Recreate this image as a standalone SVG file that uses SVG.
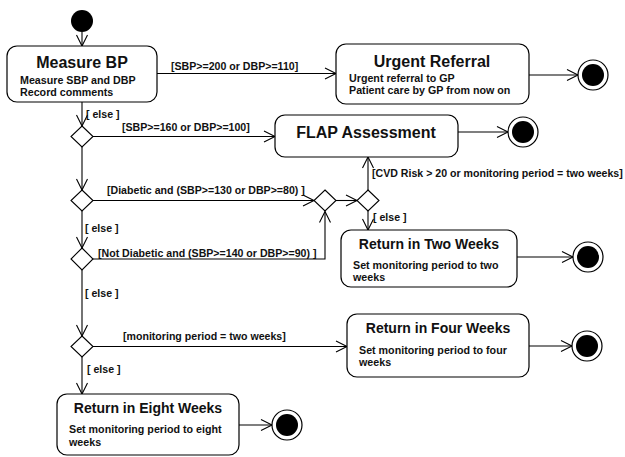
<svg xmlns="http://www.w3.org/2000/svg" width="625" height="457" viewBox="0 0 625 457">
<defs>
<marker id="arr" markerUnits="userSpaceOnUse" markerWidth="14" markerHeight="14" viewBox="0 0 14 14" refX="12" refY="7" orient="auto">
<path d="M1,1.5 L12,7 L1,12.5" fill="none" stroke="#000" stroke-width="1.1"/>
</marker>
</defs>
<style>
text{font-family:"Liberation Sans",Arial,sans-serif;font-weight:bold;fill:#111}
.box{fill:#fff;stroke:#000;stroke-width:1.2}
.t1{font-size:16px;text-anchor:middle}
.t2{font-size:14px;text-anchor:middle}
.s{font-size:10.7px}
.lbl{font-size:10.6px}
.e{fill:none;stroke:#000;stroke-width:1.1;marker-end:url(#arr)}
.ln{fill:none;stroke:#000;stroke-width:1.1}
.dia{fill:#fff;stroke:#000;stroke-width:1.1}
.fo{fill:#fff;stroke:#000;stroke-width:1.2}
</style>
<g id="connectors">
<path class="e" d="M82,32 V46"/>
<path class="e" d="M157,73.5 H336"/>
<text class="lbl" x="171" y="70">[SBP&gt;=200 or DBP&gt;=110]</text>
<path class="e" d="M529,75 H578"/>
<path class="e" d="M82,102 V126"/>
<text class="lbl" x="86" y="118">[ else ]</text>
<path class="e" d="M93,136.5 H275"/>
<text class="lbl" x="122" y="131">[SBP&gt;=160 or DBP&gt;=100]</text>
<path class="e" d="M458,132 H508"/>
<path class="e" d="M82,147 V190"/>
<path class="e" d="M93,200.5 H314"/>
<text class="lbl" x="107" y="194">[Diabetic and (SBP&gt;=130 or DBP&gt;=80) ]</text>
<path class="e" d="M82,211 V248"/>
<text class="lbl" x="85" y="232">[ else ]</text>
<path class="e" d="M93,259 H325 V211.5"/>
<text class="lbl" x="98" y="257">[Not Diabetic and (SBP&gt;=140 or DBP&gt;=90) ]</text>
<path class="e" d="M336,200.5 H357"/>
<path class="e" d="M368,190 V157"/>
<text class="lbl" x="372" y="177">[CVD Risk &gt; 20 or monitoring period = two weeks]</text>
<path class="e" d="M368,211 V230"/>
<text class="lbl" x="373" y="221">[ else ]</text>
<path class="e" d="M517,257 H573"/>
<path class="e" d="M82,270 V336"/>
<text class="lbl" x="85" y="297">[ else ]</text>
<path class="e" d="M93,346.5 H347"/>
<text class="lbl" x="123" y="340">[monitoring period = two weeks]</text>
<path class="e" d="M529,346 H572"/>
<path class="e" d="M82,357 V394"/>
<text class="lbl" x="87" y="373">[ else ]</text>
<path class="e" d="M239,425 H272"/>
</g>
<g id="start"><circle cx="82" cy="21" r="11" fill="#000"/></g>
<g id="measure-bp">
<rect class="box" x="7" y="46" width="150" height="56" rx="10"/>
<text class="t1" x="82" y="68">Measure BP</text>
<text class="s" x="20" y="84">Measure SBP and DBP</text>
<text class="s" x="20" y="96">Record comments</text>
</g>
<g id="urgent-referral">
<rect class="box" x="336" y="44" width="193" height="60" rx="10"/>
<text class="t1" x="432" y="67">Urgent Referral</text>
<text class="s" x="349" y="82">Urgent referral to GP</text>
<text class="s" x="349" y="94">Patient care by GP from now on</text>
</g>
<g id="end-urgent"><circle class="fo" cx="593" cy="75" r="15"/><circle cx="593" cy="75" r="11" fill="#000"/></g>
<g id="flap-assessment">
<rect class="box" x="275" y="115" width="183" height="42" rx="10"/>
<text class="t1" x="366" y="138">FLAP Assessment</text>
</g>
<g id="end-flap"><circle class="fo" cx="523" cy="132" r="15"/><circle cx="523" cy="132" r="11" fill="#000"/></g>
<g id="d1"><path class="dia" d="M82,126 L93,136.5 L82,147 L71,136.5 Z"/></g>
<g id="d2"><path class="dia" d="M82,190 L93,200.5 L82,211 L71,200.5 Z"/></g>
<g id="d3"><path class="dia" d="M82,248 L93,259 L82,270 L71,259 Z"/></g>
<g id="merge"><path class="dia" d="M325,190 L336,200.5 L325,211 L314,200.5 Z"/></g>
<g id="d4"><path class="dia" d="M368,190 L379,200.5 L368,211 L357,200.5 Z"/></g>
<g id="d5"><path class="dia" d="M82,336 L93,346.5 L82,357 L71,346.5 Z"/></g>
<g id="two-weeks">
<rect class="box" x="341" y="230" width="176" height="57" rx="10"/>
<text class="t2" x="429" y="249">Return in Two Weeks</text>
<text class="s" x="353" y="269">Set monitoring period to two</text>
<text class="s" x="353" y="281">weeks</text>
</g>
<g id="end-two"><circle class="fo" cx="588" cy="257" r="15"/><circle cx="588" cy="257" r="11" fill="#000"/></g>
<g id="four-weeks">
<rect class="box" x="347" y="314" width="182" height="63" rx="10"/>
<text class="t2" x="438" y="333">Return in Four Weeks</text>
<text class="s" x="359" y="354">Set monitoring period to four</text>
<text class="s" x="359" y="366">weeks</text>
</g>
<g id="end-four"><circle class="fo" cx="587" cy="346" r="15"/><circle cx="587" cy="346" r="11" fill="#000"/></g>
<g id="eight-weeks">
<rect class="box" x="57" y="394" width="182" height="61" rx="10"/>
<text class="t2" x="148" y="413">Return in Eight Weeks</text>
<text class="s" x="69" y="433">Set monitoring period to eight</text>
<text class="s" x="69" y="446">weeks</text>
</g>
<g id="end-eight"><circle class="fo" cx="287" cy="425" r="15"/><circle cx="287" cy="425" r="11" fill="#000"/></g>
</svg>
